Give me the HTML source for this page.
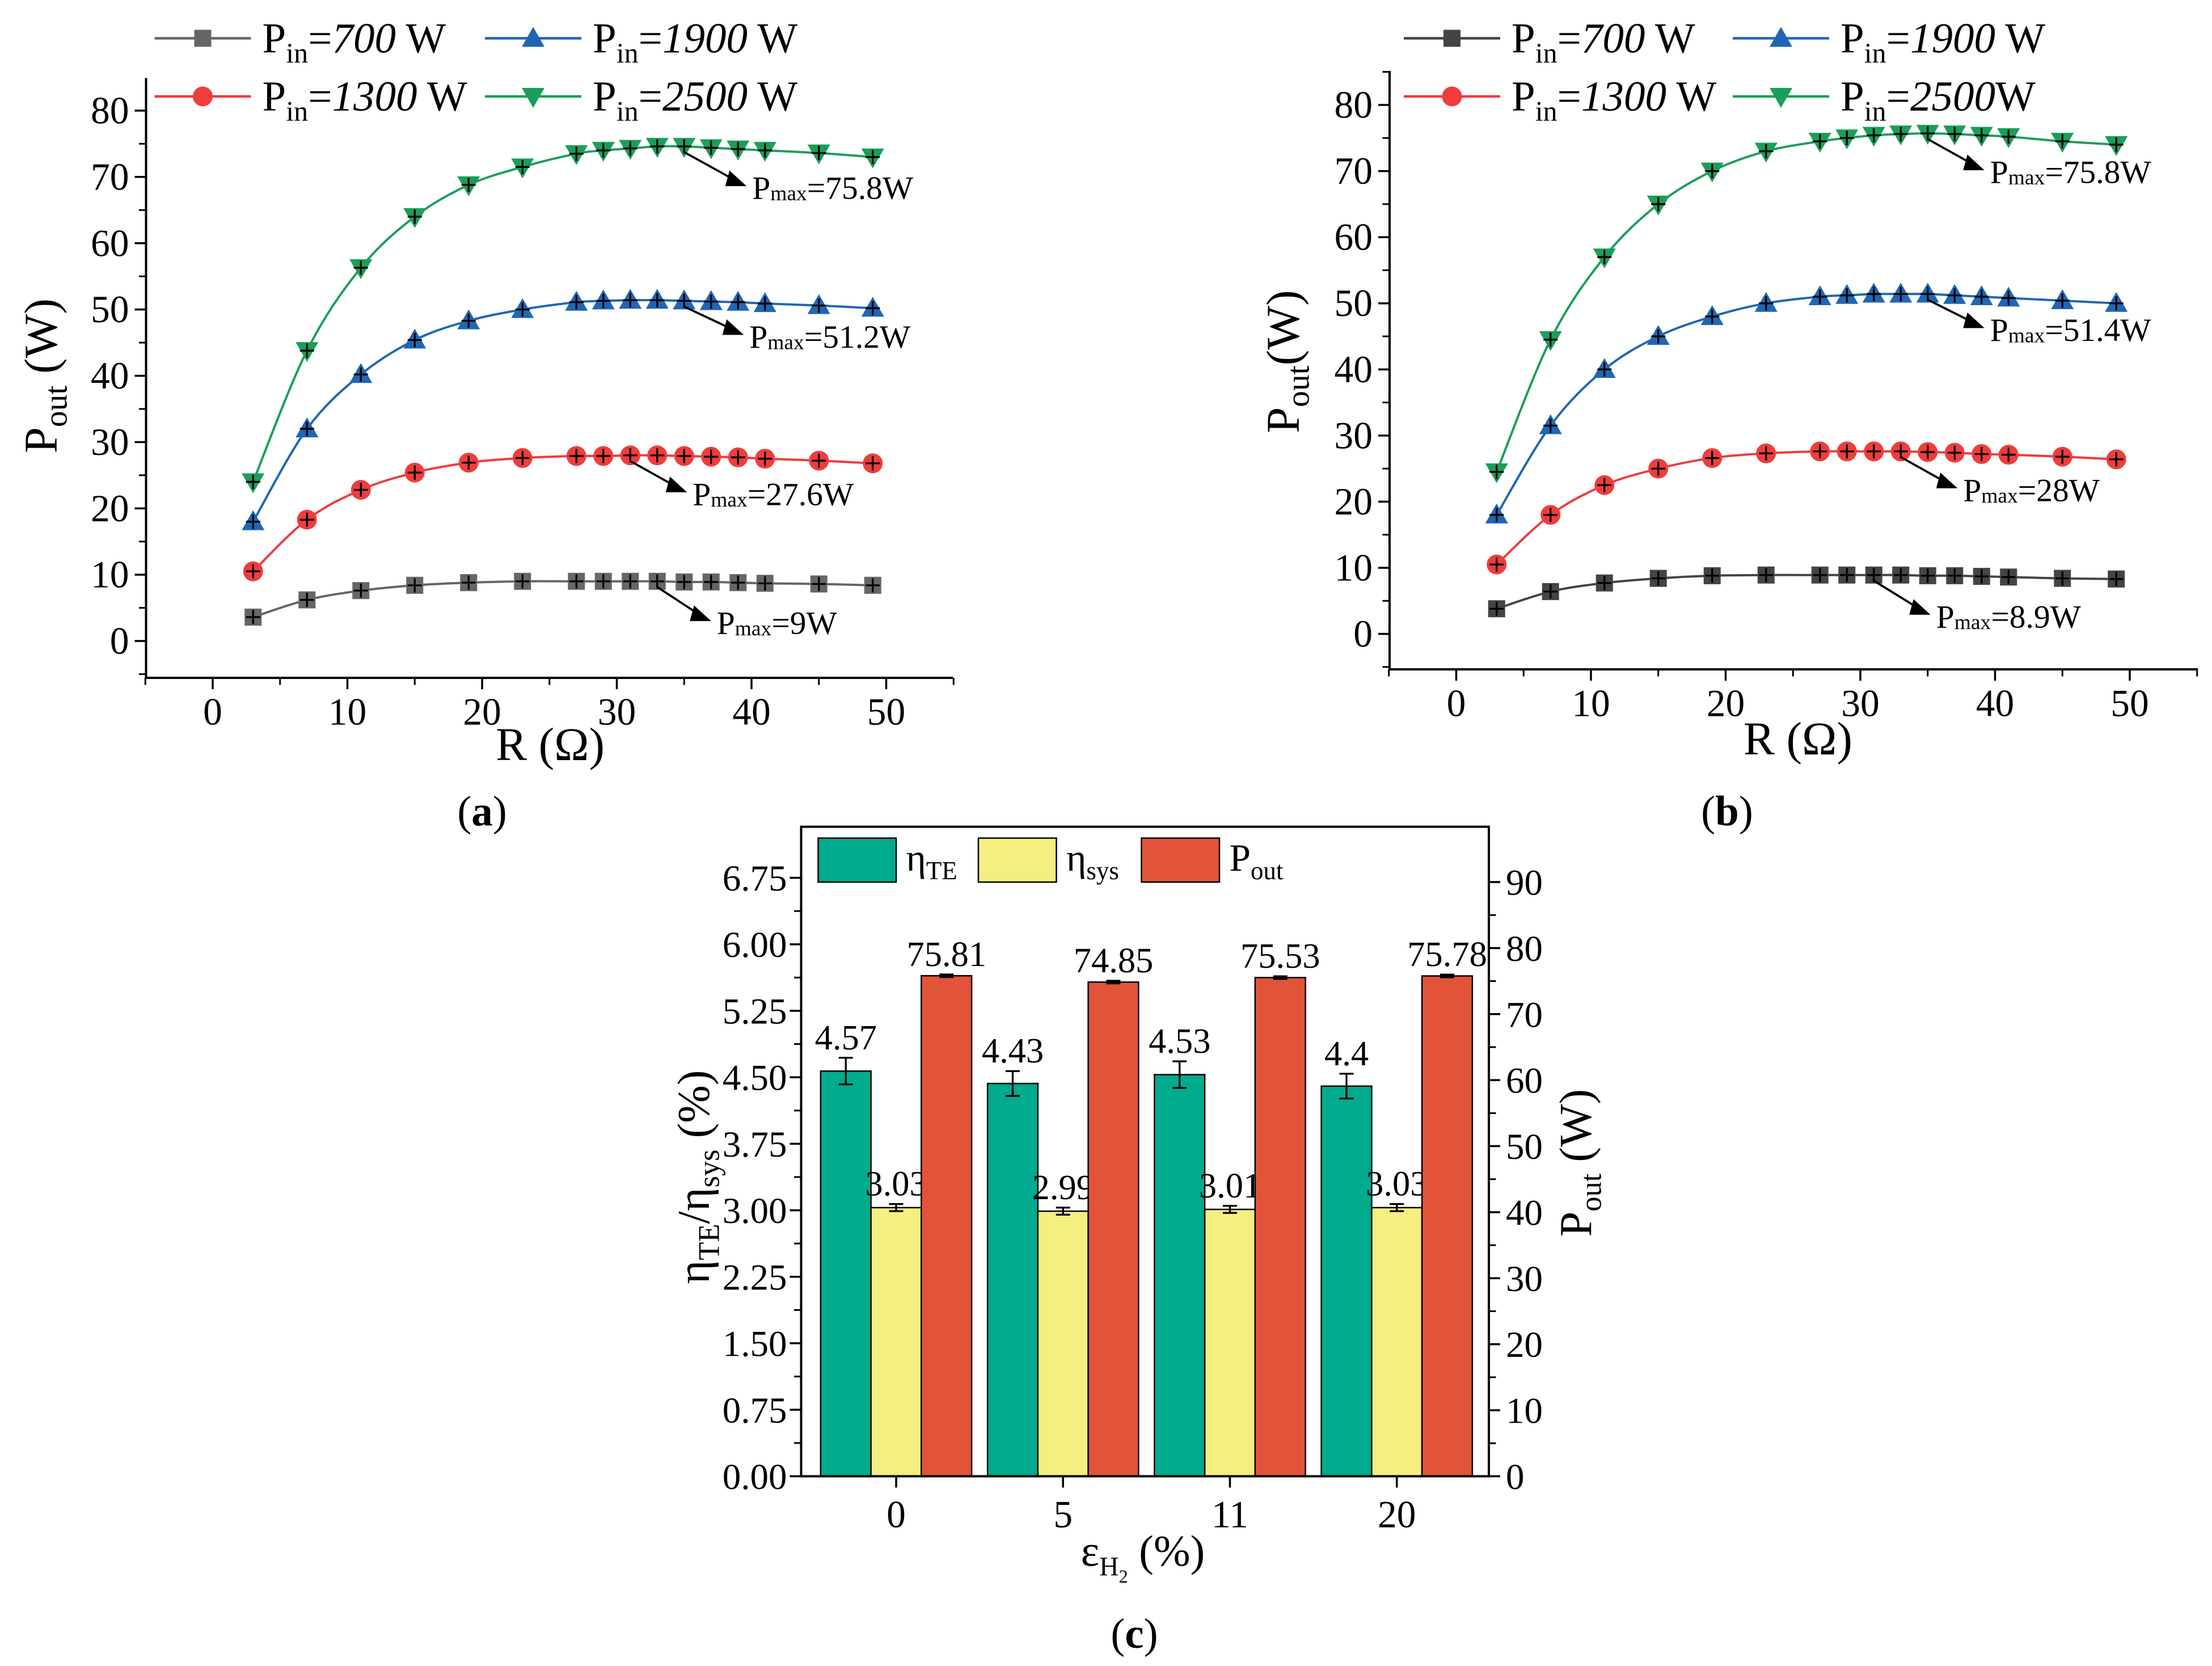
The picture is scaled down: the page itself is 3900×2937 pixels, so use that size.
<!DOCTYPE html>
<html><head><meta charset="utf-8">
<style>
html,body{margin:0;padding:0;background:#fff;}
svg{display:block;font-family:"Liberation Serif",serif;}
</style></head>
<body>
<svg id="fig" width="3900" height="2937" viewBox="0 0 1560 1174.8" xmlns="http://www.w3.org/2000/svg">
<rect x="0" y="0" width="1560" height="1175" fill="#fff"/>
</svg>
<script>
// ---- data ----
const rValues = [3,7,11,15,19,23,27,29,31,33,35,37,39,41,45,49];
const a700  = [3.6,6.2,7.6,8.4,8.8,9,9,9,9,9,8.9,8.9,8.8,8.7,8.6,8.4];
const a1300 = [10.5,18.3,22.8,25.4,26.9,27.6,27.9,27.9,28,28,27.9,27.8,27.7,27.5,27.2,26.8];
const a1900 = [18,32,40.2,45.4,48.3,50,51.1,51.3,51.4,51.4,51.3,51.2,51.1,50.9,50.6,50.2];
const a2500 = [24,43.8,56.3,64,68.8,71.5,73.5,74,74.3,74.6,74.6,74.4,74.2,74,73.6,73];
const b700  = [3.8,6.4,7.7,8.4,8.8,8.9,8.9,8.9,8.9,8.9,8.8,8.8,8.7,8.6,8.4,8.3];
const b1300 = [10.5,18,22.5,25,26.6,27.3,27.6,27.6,27.6,27.6,27.5,27.4,27.2,27.1,26.8,26.4];
const b1900 = [18,31.5,40,45,48,50,51,51.2,51.4,51.4,51.4,51.2,51,50.8,50.4,50];
const b2500 = [24.5,44.5,57,65,70,73,74.5,75,75.4,75.6,75.7,75.6,75.4,75.2,74.5,74];
const xTicks = [0,10,20,30,40,50];
const yTicks = [0,10,20,30,40,50,60,70,80];
const cCategories = ["0","5","11","20"];
const cEtaTE = [4.57,4.43,4.53,4.4];
const cEtaSys = [3.03,2.99,3.01,3.03];
const cPout = [75.81,74.85,75.53,75.78];
const cErrTE = [0.15,0.14,0.15,0.14];
const cErrSys = [0.04,0.04,0.04,0.04];
const cErrPout = [0.2,0.2,0.2,0.2];
const cLeftTicks = [0,0.75,1.5,2.25,3,3.75,4.5,5.25,6,6.75];
const cLeftLabels = ["0.00","0.75","1.50","2.25","3.00","3.75","4.50","5.25","6.00","6.75"];
const cRightTicks = [0,10,20,30,40,50,60,70,80,90];

const svg = document.getElementById('fig');
const NS = "http://www.w3.org/2000/svg";
function mk(tag, attrs, parent){ const e=document.createElementNS(NS,tag); for(const k in attrs) e.setAttribute(k,attrs[k]); (parent||svg).appendChild(e); return e; }
function txt(x,y,s,size,anchor,parent){ const t=mk('text',{x:x,y:y,'font-size':size,'text-anchor':anchor||'middle',fill:'#000'},parent); t.innerHTML=s; return t; }

function smoothPath(pts){
  let d="M"+pts[0][0]+","+pts[0][1];
  for(let i=0;i<pts.length-1;i++){
    const p0=pts[Math.max(0,i-1)],p1=pts[i],p2=pts[i+1],p3=pts[Math.min(pts.length-1,i+2)];
    const c1x=p1[0]+(p2[0]-p0[0])/6,c1y=p1[1]+(p2[1]-p0[1])/6;
    const c2x=p2[0]-(p3[0]-p1[0])/6,c2y=p2[1]-(p3[1]-p1[1])/6;
    d+=" C"+c1x+","+c1y+" "+c2x+","+c2y+" "+p2[0]+","+p2[1];
  }
  return d;
}
function marker(g,shape,x,y,color){
  let m;
  if(shape==='square') m=mk('rect',{x:x-6,y:y-6,width:12,height:12,fill:color},g);
  else if(shape==='circle') m=mk('circle',{cx:x,cy:y,r:7,fill:color},g);
  else if(shape==='up') m=mk('polygon',{points:`${x},${y-8} ${x-8},${y+6} ${x+8},${y+6}`,fill:color},g);
  else m=mk('polygon',{points:`${x},${y+8} ${x-8},${y-6} ${x+8},${y-6}`,fill:color},g);
  return m;
}

function linePanel(cfg){
  const g=mk('g',{});
  
  
  const X=v=>cfg.x0+v*cfg.sx, Y=v=>cfg.y0-v*cfg.sy;
  const ax=mk('path',{d:`M${cfg.axL},${cfg.axT} V${cfg.axB} H${cfg.axR}`,stroke:'#000','stroke-width':1.6,fill:'none'},g);
  
  
  xTicks.forEach(v=>{ mk('line',{x1:X(v),x2:X(v),y1:cfg.axB,y2:cfg.axB+8,stroke:'#000','stroke-width':1.4},g);
    const t=txt(X(v),cfg.axB+33,v,27,'middle',g);   });
  for(let v=-5;v<=55;v+=10) mk('line',{x1:X(v),x2:X(v),y1:cfg.axB,y2:cfg.axB+5,stroke:'#000','stroke-width':1.2},g);
  yTicks.forEach(v=>{ mk('line',{x1:cfg.axL-8,x2:cfg.axL,y1:Y(v),y2:Y(v),stroke:'#000','stroke-width':1.4},g);
    const t=txt(cfg.axL-12,Y(v)+9,v,27,'end',g);   });
  for(let v=-5;v<=85;v+=10) if(Y(v)>cfg.axT&&Y(v)<cfg.axB) mk('line',{x1:cfg.axL-5,x2:cfg.axL,y1:Y(v),y2:Y(v),stroke:'#000','stroke-width':1.2},g);
  const xt=txt(cfg.xtX,cfg.xtY,'R (Ω)',33,'middle',g);  
  const yt=mk('text',{x:0,y:0,'font-size':33,'text-anchor':'middle',transform:`translate(${cfg.ytX},${cfg.ytY}) rotate(-90)`},g);
  yt.innerHTML='P<tspan font-size="23" dy="7">out</tspan><tspan dy="-7">'+cfg.ytTail+'</tspan>';
   
  cfg.series.forEach(s=>{
    const sg=mk('g',{},g);
    
    
    const pts=rValues.map((r,i)=>[X(r),Y(s.data[i])]);
    mk('path',{d:smoothPath(pts),stroke:s.color,'stroke-width':1.6,fill:'none'},sg);
    pts.forEach(p=>{ const m=marker(sg,s.shape,p[0],p[1],s.color);
      
      
      mk('path',{d:`M${p[0]-5},${p[1]} H${p[0]+5} M${p[0]},${p[1]-5} V${p[1]+5}`,stroke:'#000','stroke-width':1.3},sg); });
  });
  cfg.notes.forEach(n=>{
    const ag=mk('g',{},g);
    
    
    const x1=X(n.r),y1=Y(n.v)+4,x2=x1+n.dx,y2=y1+n.dy;
    mk('line',{x1:x1,y1:y1,x2:x2-6,y2:y2-3,stroke:'#000','stroke-width':1.5},ag);
    mk('polygon',{points:`${x2},${y2} ${x2-12},${y2-11} ${x2-15},${y2}`,fill:'#000'},ag);
    const t=mk('text',{x:x2+4,y:y2+9,'font-size':23},ag);
    t.innerHTML='P<tspan font-size="15" dy="1">max</tspan><tspan dy="-1">='+n.text+'</tspan>';
  });
  cfg.legend.forEach(l=>{
    const lg=mk('g',{},g);
    
    
    mk('line',{x1:l.x,x2:l.x+68,y1:l.y,y2:l.y,stroke:l.color,'stroke-width':1.8},lg);
    marker(lg,l.shape,l.x+34,l.y,l.color);
    const t=mk('text',{x:l.x+76,y:l.y+10,'font-size':30},lg);
    t.innerHTML='P<tspan font-size="20" dy="7">in</tspan><tspan dy="-7">=<tspan font-style="italic">'+l.val+'</tspan>'+l.unit+'</tspan>';
  });
  const lab=mk('text',{x:cfg.labX,y:cfg.labY,'font-size':30,'text-anchor':'middle'},g);
  lab.innerHTML='(<tspan font-weight="bold">'+cfg.lab+'</tspan>)';
   
}

const RED='#f03c3c',BLUE='#1f66b4',GREEN='#1a9e5a';
linePanel({name:'panel-a',x0:150,sx:9.5,y0:452,sy:4.675,axL:103,axR:672,axT:55,axB:478,
  xtX:388,xtY:536,ytX:40,ytY:265,ytTail:' (W)',labX:340,labY:582,lab:'a',
  series:[{label:'700',data:a700,color:'#666',shape:'square'},{label:'1300',data:a1300,color:RED,shape:'circle'},
          {label:'1900',data:a1900,color:BLUE,shape:'up'},{label:'2500',data:a2500,color:GREEN,shape:'down'}],
  notes:[{r:35,v:74.6,dx:44,dy:24,text:'75.8W'},{r:35,v:51.3,dx:42,dy:20,text:'51.2W'},{r:31,v:28,dx:40,dy:22,text:'27.6W'},{r:33,v:9,dx:38,dy:24,text:'9W'}],
  legend:[{x:109,y:27,color:'#666',shape:'square',val:'700',unit:' W'},{x:342,y:27,color:BLUE,shape:'up',val:'1900',unit:' W'},
          {x:109,y:68,color:RED,shape:'circle',val:'1300',unit:' W'},{x:342,y:68,color:GREEN,shape:'down',val:'2500',unit:' W'}]});
linePanel({name:'panel-b',x0:1027,sx:9.5,y0:447,sy:4.6625,axL:980,axR:1550,axT:50,axB:472,
  xtX:1268,xtY:532,ytX:916,ytY:255,ytTail:'(W)',labX:1218,labY:582,lab:'b',
  series:[{label:'700',data:b700,color:'#444',shape:'square'},{label:'1300',data:b1300,color:RED,shape:'circle'},
          {label:'1900',data:b1900,color:BLUE,shape:'up'},{label:'2500',data:b2500,color:GREEN,shape:'down'}],
  notes:[{r:35,v:75.7,dx:40,dy:22,text:'75.8W'},{r:35,v:51.4,dx:40,dy:20,text:'51.4W'},{r:33,v:27.6,dx:40,dy:22,text:'28W'},{r:31,v:8.9,dx:40,dy:24,text:'8.9W'}],
  legend:[{x:990,y:27,color:'#444',shape:'square',val:'700',unit:' W'},{x:1222,y:27,color:BLUE,shape:'up',val:'1900',unit:' W'},
          {x:990,y:68,color:RED,shape:'circle',val:'1300',unit:' W'},{x:1222,y:68,color:GREEN,shape:'down',val:'2500',unit:'W'}]});

(function(){
  const g=mk('g',{});
  
  
  const L=565,R=1050,T=583,B=1041;
  const YL=v=>B-v*(422/6.75), YR=v=>B-v*(419/90);
  const cx=i=>632+i*117.7;
  const bw=35.5;
  const series=[{n:'eta-te',vals:cEtaTE,err:cErrTE,color:'#00ab8e',off:-1.5,scale:YL},
                {n:'eta-sys',vals:cEtaSys,err:cErrSys,color:'#f5ee80',off:-0.5,scale:YL},
                {n:'p-out',vals:cPout,err:cErrPout,color:'#e2533a',off:0.5,scale:YR}];
  series.forEach(s=>{
    s.vals.forEach((v,i)=>{
      const x=cx(i)+s.off*bw, y=s.scale(v);
      const b=mk('rect',{x:x,y:y,width:bw,height:B-y,fill:s.color,stroke:'#000','stroke-width':1},g);
      
      
      const ey1=s.scale(v+s.err[i]),ey2=s.scale(v-s.err[i]),mx=x+bw/2;
      mk('path',{d:`M${mx},${ey1} V${ey2} M${mx-5},${ey1} H${mx+5} M${mx-5},${ey2} H${mx+5}`,stroke:'#000','stroke-width':1.3,fill:'none'},g);
      const label = s.n==='eta-te' ? String(v) : v.toFixed(2);
      const t=txt(mx,ey1-6,label,25,'middle',g);
      
      
    });
  });
  const ax=mk('rect',{x:L,y:T,width:R-L,height:B-T,fill:'none',stroke:'#000','stroke-width':1.6},g);
  
  
  cLeftTicks.forEach((v,i)=>{ mk('line',{x1:L-8,x2:L,y1:YL(v),y2:YL(v),stroke:'#000','stroke-width':1.4},g);
    const t=txt(L-10,YL(v)+9,cLeftLabels[i],26,'end',g);   });
  for(let v=0.375;v<7;v+=0.75) mk('line',{x1:L-5,x2:L,y1:YL(v),y2:YL(v),stroke:'#000','stroke-width':1.2},g);
  cRightTicks.forEach(v=>{ mk('line',{x1:R,x2:R+8,y1:YR(v),y2:YR(v),stroke:'#000','stroke-width':1.4},g);
    const t=txt(R+12,YR(v)+9,v,26,'start',g);   });
  for(let v=5;v<95;v+=10) mk('line',{x1:R,x2:R+5,y1:YR(v),y2:YR(v),stroke:'#000','stroke-width':1.2},g);
  cCategories.forEach((c,i)=>{ mk('line',{x1:cx(i),x2:cx(i),y1:B,y2:B+8,stroke:'#000','stroke-width':1.4},g);
    const t=txt(cx(i),B+36,c,27,'middle',g);   });
  const xt=mk('text',{x:806,y:1104,'font-size':31,'text-anchor':'middle'},g);
  xt.innerHTML='ε<tspan font-size="19" dy="7">H</tspan><tspan font-size="13" dy="5">2</tspan><tspan dy="-12"> (%)</tspan>';
   
  const yl=mk('text',{x:0,y:0,'font-size':32,'text-anchor':'middle',transform:'translate(500,830) rotate(-90)'},g);
  yl.innerHTML='η<tspan font-size="21" dy="7">TE</tspan><tspan dy="-7">/η</tspan><tspan font-size="21" dy="7">sys</tspan><tspan dy="-7"> (%)</tspan>';
   
  const yr=mk('text',{x:0,y:0,'font-size':32,'text-anchor':'middle',transform:'translate(1122,820) rotate(-90)'},g);
  yr.innerHTML='P<tspan font-size="21" dy="7">out</tspan><tspan dy="-7"> (W)</tspan>';
   
  const leg=[{x:577,c:'#00ab8e',h:'η<tspan font-size="18" dy="6">TE</tspan>'},{x:690,c:'#f5ee80',h:'η<tspan font-size="18" dy="6">sys</tspan>'},{x:805,c:'#e2533a',h:'P<tspan font-size="18" dy="6">out</tspan>'}];
  leg.forEach(l=>{ const lg=mk('g',{},g);
    
    
    mk('rect',{x:l.x,y:591,width:55,height:31,fill:l.c,stroke:'#000','stroke-width':1},lg);
    const t=mk('text',{x:l.x+62,y:614,'font-size':27},lg); t.innerHTML=l.h; });
  const lab=mk('text',{x:800,y:1162,'font-size':30,'text-anchor':'middle'},g);
  lab.innerHTML='(<tspan font-weight="bold">c</tspan>)';
   
})();
</script>
</body></html>
